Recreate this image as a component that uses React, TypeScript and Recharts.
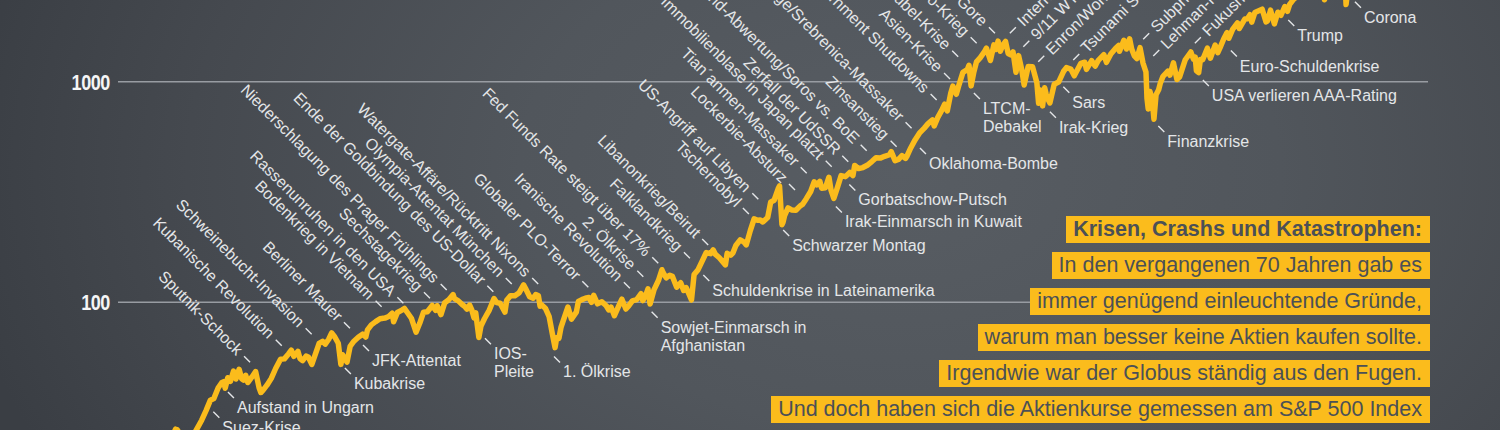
import { LineChart, Line, XAxis, YAxis, ReferenceLine, ReferenceDot } from 'recharts';

// S&P 500, [year, index level]
const spx1950s: [number, number][] = [
  [1951.9, 23.8], [1952.1, 24.1], [1952.3, 23.3], [1952.5, 25.4], [1952.75, 24.5], [1952.95, 26.6],
  [1953.05, 26.4], [1953.3, 24.6], [1953.5, 24.8], [1953.7, 23.0], [1953.95, 24.8], [1954.2, 26.9],
  [1954.45, 29.2], [1954.7, 32.3], [1954.95, 36.0], [1955.15, 36.6], [1955.4, 41.0], [1955.6, 43.2],
  [1955.72, 43.7], [1955.8, 40.8], [1955.95, 45.5], [1956.1, 43.8], [1956.28, 48.8], [1956.42, 44.9],
  [1956.6, 49.7], [1956.75, 45.0], [1956.85, 44.4], [1956.98, 46.7], [1957.1, 43.3], [1957.35, 46.0],
  [1957.55, 48.5], [1957.75, 41.0], [1957.85, 39.0], [1957.98, 40.0], [1958.2, 42.1], [1958.45, 45.2],
  [1958.7, 50.1], [1958.98, 55.2], [1959.2, 55.4], [1959.45, 58.5], [1959.6, 60.7], [1959.75, 56.9],
  [1959.98, 59.9],
];
const spx1960s: [number, number][] = [
  [1960.1, 55.6], [1960.25, 54.4], [1960.45, 57.0], [1960.58, 56.5], [1960.78, 52.3], [1960.98, 58.1],
  [1961.2, 65.1], [1961.4, 66.5], [1961.55, 64.6], [1961.75, 68.0], [1961.92, 72.6], [1962.1, 69.6],
  [1962.3, 65.2], [1962.45, 52.3], [1962.55, 57.8], [1962.8, 53.5], [1962.98, 63.1], [1963.2, 66.6],
  [1963.45, 69.4], [1963.7, 71.7], [1963.88, 69.6], [1963.98, 75.0], [1964.2, 79.0], [1964.45, 81.7],
  [1964.7, 84.2], [1964.98, 84.8], [1965.2, 86.2], [1965.4, 89.3], [1965.48, 81.6], [1965.7, 89.9],
  [1965.98, 92.4], [1966.1, 93.8], [1966.3, 89.2], [1966.5, 84.7], [1966.77, 73.2], [1966.98, 80.3],
  [1967.2, 90.2], [1967.42, 90.6], [1967.7, 96.7], [1967.9, 92.0], [1967.98, 96.5], [1968.2, 88.0],
  [1968.42, 99.6], [1968.65, 102.7], [1968.9, 108.4], [1968.98, 103.9], [1969.2, 101.5], [1969.42, 97.7],
  [1969.58, 95.5], [1969.7, 93.1], [1969.85, 97.1], [1969.98, 92.1],
];
const spx1970s: [number, number][] = [
  [1970.1, 85.0], [1970.2, 89.6], [1970.38, 69.3], [1970.5, 78.0], [1970.7, 84.2], [1970.98, 92.2],
  [1971.25, 103.9], [1971.4, 99.7], [1971.6, 99.0], [1971.88, 90.2], [1971.98, 102.1], [1972.2, 107.2],
  [1972.45, 107.1], [1972.7, 110.6], [1972.95, 119.9], [1973.05, 116.0], [1973.3, 106.0], [1973.5, 104.3],
  [1973.65, 108.4], [1973.8, 107.0], [1973.9, 95.9], [1973.98, 97.5], [1974.2, 94.0], [1974.42, 86.0],
  [1974.6, 72.2], [1974.76, 62.3], [1974.85, 69.0], [1974.98, 68.6], [1975.1, 76.9], [1975.25, 83.4],
  [1975.5, 95.2], [1975.7, 83.9], [1975.98, 90.2], [1976.1, 100.9], [1976.3, 102.8], [1976.5, 104.3],
  [1976.7, 105.2], [1976.85, 100.0], [1976.98, 107.5], [1977.2, 98.4], [1977.45, 100.5], [1977.7, 96.5],
  [1977.85, 92.3], [1977.98, 95.1], [1978.17, 86.9], [1978.4, 95.5], [1978.6, 103.3], [1978.83, 93.2],
  [1978.98, 96.1], [1979.2, 101.6], [1979.45, 102.9], [1979.7, 109.3], [1979.8, 101.8], [1979.98, 107.9],
];
const spx1980s: [number, number][] = [
  [1980.1, 115.0], [1980.22, 98.2], [1980.45, 114.2], [1980.7, 125.5], [1980.9, 140.5], [1980.98, 135.8],
  [1981.15, 129.0], [1981.35, 132.7], [1981.5, 131.2], [1981.75, 117.1], [1981.98, 122.6], [1982.15, 113.1],
  [1982.3, 116.4], [1982.6, 102.4], [1982.75, 133.7], [1982.98, 140.6], [1983.2, 153.0], [1983.45, 168.1],
  [1983.7, 166.1], [1983.85, 172.7], [1983.98, 164.9], [1984.2, 159.2], [1984.55, 147.8], [1984.65, 166.7],
  [1984.85, 163.6], [1984.98, 167.2], [1985.15, 181.0], [1985.4, 191.9], [1985.6, 188.0], [1985.75, 182.1],
  [1985.98, 211.3], [1986.2, 238.9], [1986.4, 235.5], [1986.55, 236.1], [1986.7, 231.3], [1986.98, 242.2],
  [1987.15, 284.2], [1987.35, 290.1], [1987.6, 329.8], [1987.66, 336.8], [1987.8, 224.8], [1987.86, 230.3],
  [1987.95, 247.1], [1988.15, 267.8], [1988.35, 262.2], [1988.6, 261.5], [1988.85, 273.7], [1988.98, 277.7],
  [1989.2, 294.9], [1989.45, 318.0], [1989.65, 351.5], [1989.8, 340.4], [1989.98, 353.4],
];
const spx1990s: [number, number][] = [
  [1990.08, 329.1], [1990.3, 330.8], [1990.5, 368.9], [1990.62, 322.6], [1990.78, 295.5], [1990.98, 330.2],
  [1991.2, 375.2], [1991.45, 371.2], [1991.7, 387.9], [1991.88, 375.2], [1991.98, 417.1], [1992.2, 403.7],
  [1992.45, 408.1], [1992.7, 417.8], [1992.98, 435.7], [1993.2, 451.7], [1993.45, 450.5], [1993.7, 458.9],
  [1993.98, 466.5], [1994.08, 481.6], [1994.3, 438.9], [1994.5, 444.3], [1994.7, 462.7], [1994.9, 449.0],
  [1994.98, 459.3], [1995.2, 500.7], [1995.45, 544.8], [1995.7, 584.4], [1995.98, 615.9], [1996.2, 645.5],
  [1996.45, 670.6], [1996.55, 630.0], [1996.75, 687.3], [1996.98, 740.7], [1997.15, 790.8], [1997.3, 737.7],
  [1997.5, 885.1], [1997.62, 954.3], [1997.82, 876.9], [1997.98, 970.4], [1998.2, 1101.8], [1998.45, 1133.8],
  [1998.55, 1186.8], [1998.67, 957.3], [1998.82, 1098.7], [1998.98, 1229.2], [1999.2, 1286.4], [1999.45, 1372.7],
  [1999.55, 1418.8], [1999.78, 1247.4], [1999.98, 1469.3],
];
const spx2000s: [number, number][] = [
  [2000.1, 1401.0], [2000.22, 1527.5], [2000.35, 1373.7], [2000.5, 1469.0], [2000.65, 1520.8], [2000.8, 1342.6],
  [2000.98, 1320.3], [2001.08, 1366.0], [2001.25, 1103.3], [2001.4, 1312.8], [2001.58, 1133.6], [2001.72, 965.8],
  [2001.95, 1170.4], [2002.2, 1170.3], [2002.45, 989.8], [2002.55, 797.7], [2002.65, 916.1], [2002.78, 776.8],
  [2002.9, 938.9], [2002.98, 879.8], [2003.1, 829.7], [2003.2, 800.7], [2003.45, 974.5], [2003.7, 996.0],
  [2003.98, 1111.9], [2004.15, 1157.8], [2004.4, 1140.8], [2004.6, 1063.2], [2004.98, 1211.9], [2005.2, 1225.3],
  [2005.3, 1137.5], [2005.6, 1245.0], [2005.8, 1176.8], [2005.98, 1248.3], [2006.3, 1325.8], [2006.45, 1223.7],
  [2006.7, 1335.9], [2006.98, 1418.3], [2007.15, 1459.7], [2007.2, 1374.1], [2007.45, 1539.2], [2007.6, 1406.7],
  [2007.78, 1565.2], [2007.9, 1407.2], [2008.05, 1310.5], [2008.2, 1273.4], [2008.38, 1426.6], [2008.55, 1214.9],
  [2008.72, 1106.4], [2008.78, 839.8], [2008.85, 752.4], [2008.95, 903.3], [2009.08, 825.9], [2009.18, 676.5],
  [2009.3, 872.8], [2009.45, 919.3], [2009.55, 987.5], [2009.7, 1057.1], [2009.98, 1115.1],
];
const spx2010s: [number, number][] = [
  [2010.1, 1071.0], [2010.3, 1217.3], [2010.5, 1022.6], [2010.65, 1049.3], [2010.98, 1257.6], [2011.3, 1363.6],
  [2011.45, 1265.4], [2011.55, 1292.3], [2011.62, 1119.5], [2011.75, 1099.2], [2011.85, 1261.2], [2011.98, 1257.6],
  [2012.25, 1419.0], [2012.42, 1278.0], [2012.7, 1465.8], [2012.85, 1353.3], [2012.98, 1426.2], [2013.2, 1569.2],
  [2013.38, 1669.2], [2013.48, 1573.1], [2013.7, 1725.5], [2013.98, 1848.4], [2014.08, 1741.9], [2014.4, 1923.6],
  [2014.55, 1930.7], [2014.7, 2011.4], [2014.8, 1862.5], [2014.98, 2058.9], [2015.4, 2130.8], [2015.62, 1867.6],
  [2015.7, 1882.0], [2015.88, 2109.8], [2016.1, 1829.1], [2016.3, 2065.3], [2016.48, 2000.5], [2016.7, 2190.2],
  [2016.85, 2085.2], [2016.98, 2238.8], [2017.2, 2362.7], [2017.5, 2470.3], [2017.98, 2673.6], [2018.1, 2872.9],
  [2018.15, 2581.0], [2018.5, 2800.0], [2018.75, 2930.8], [2018.98, 2351.1], [2019.3, 2945.8], [2019.6, 2822.2],
  [2019.98, 3230.8], [2020.12, 3386.2], [2020.22, 2237.4], [2020.4, 2929.8], [2020.7, 3385.5], [2020.98, 3756.1],
];

// events: [label, year, level where the leader sits]
const upLeftNotes: [string, number, number][] = [
  ['Sputnik-Schock', 1957.23, 53.5],
  ['Kubanische Revolution', 1959.05, 63.6],
  ['Schweinebucht-Invasion', 1960.77, 71.6],
  ['Berliner Mauer', 1962.97, 76.2],
  ['Bodenkrieg in Vietnam', 1964.79, 95.5],
  ['Rassenunruhen in den USA', 1966.04, 99.0],
  ['Sechstagekrieg', 1967.57, 104.3],
  ['Niederschlagung des Prager Frühlings', 1968.53, 113.7],
  ['Ende der Goldbindung des US-Dollar', 1971.21, 111.7],
  ['Olympia-Attentat München', 1972.27, 121.1],
  ['Watergate-Affäre/Rücktritt Nixons', 1973.79, 121.1],
  ['Globaler PLO-Terror', 1976.67, 116.9],
  ['Iranische Revolution', 1979.06, 115.7],
  ['2. Ölkrise', 1979.83, 130.6],
  ['Fed Funds Rate steigt über 17%', 1980.69, 150.2],
  ['Falklandkrieg', 1982.51, 158.3],
  ['Libanonkrieg/Beirut', 1983.56, 181.8],
  ['Tschernobyl', 1985.9, 251.3],
  ['US-Angriff auf Libyen', 1986.44, 293.0],
  ['Lockerbie-Absturz', 1988.55, 322.9],
  ['Tian´anmen-Massaker', 1989.22, 384.5],
  ['Immobilienblase in Japan platzt', 1990.66, 411.8],
  ['Zerfall der UdSSR', 1991.61, 433.8],
  ['Pfund-Abwertung/Soros vs. BoE', 1992.67, 486.7],
  ['Zinsanstieg', 1994.39, 507.5],
  ['Jugoslawienkriege/Srebrenica-Massaker', 1995.25, 615.0],
  ['Government Shutdowns', 1996.69, 826.1],
  ['Asien-Krise', 1997.46, 1028.5],
  ['Rubel-Krise', 1997.93, 1298],
  ['Kosovo-Krieg', 1998.99, 1493],
  ['Bush vs. Gore', 2000.04, 1657],
];
const upRightNotes: [string, number, number][] = [
  ['Internet-Blase', 2000.9, 1657],
  ['9/11 WTC', 2001.67, 1441],
  ['Enron/WorldCom', 2002.53, 1232],
  ['Tsunami Südostasien', 2004.54, 1254],
  ['Subprime-Krise', 2008.56, 1556],
  ['Lehman-Pleite', 2009.14, 1308],
  ['Fukushima', 2011.53, 1493],
];
const downNotes: [string, number, number][] = [
  ['Suez-Krise', 1955.12, 31.9],
  ['Aufstand in Ungarn', 1955.96, 39.2],
  ['Kubakrise', 1962.68, 50.4],
  ['JFK-Attentat', 1963.72, 64.0],
  ['IOS-\nPleite', 1970.73, 68.7],
  ['1. Ölkrise', 1974.7, 56.8],
  ['Sowjet-Einmarsch in\nAfghanistan', 1980.31, 90.7],
  ['Schuldenkrise in Lateinamerika', 1983.28, 133.0],
  ['Schwarzer Montag', 1987.87, 212.7],
  ['Irak-Einmarsch in Kuwait', 1990.9, 272],
  ['Gorbatschow-Putsch', 1991.67, 342],
  ['Oklahoma-Bombe', 1995.73, 500.6],
  ['LTCM-\nDebakel', 1998.83, 888.9],
  ['Irak-Krieg', 2003.2, 731.2],
  ['Sars', 2003.97, 949],
  ['Finanzkrise', 2009.43, 629.9],
  ['USA verlieren AAA-Rating', 2011.99, 1017.9],
  ['Euro-Schuldenkrise', 2013.6, 1384.5],
  ['Trump', 2016.9, 1904],
  ['Corona', 2020.73, 2304],
];

const valueTicks = [100, 1000];

const infoLines = [
  'Krisen, Crashs und Katastrophen:',
  'In den vergangenen 70 Jahren gab es',
  'immer genügend einleuchtende Gründe,',
  'warum man besser keine Aktien kaufen sollte.',
  'Irgendwie war der Globus ständig aus den Fugen.',
  'Und doch haben sich die Aktienkurse gemessen am S&P 500 Index',
];

const series = [...spx1950s, ...spx1960s, ...spx1970s, ...spx1980s, ...spx1990s, ...spx2000s, ...spx2010s].map(
  ([t, v]) => ({ t, v })
);

const YELLOW = '#fbbc1c';
const NOTE = '#e4e6e8';
const SANS = "'Liberation Sans', Arial, Helvetica, sans-serif";

function Note({ cx, cy, text, dir }: { cx?: number; cy?: number; text: string; dir: 'ul' | 'ur' | 'dr' }) {
  if (cx == null || cy == null) return <g />;
  const font = { fill: NOTE, fontSize: 16, fontFamily: SANS };
  if (dir === 'ul') {
    return (
      <g>
        <line x1={cx - 6} y1={cy - 6} x2={cx} y2={cy} stroke={NOTE} strokeWidth={1.4} />
        <text transform={`translate(${cx - 10},${cy - 10}) rotate(45)`} textAnchor="end" dy="0.35em" {...font}>
          {text}
        </text>
      </g>
    );
  }
  if (dir === 'ur') {
    return (
      <g>
        <line x1={cx} y1={cy} x2={cx + 6} y2={cy - 6} stroke={NOTE} strokeWidth={1.4} />
        <text transform={`translate(${cx + 10},${cy - 10}) rotate(-45)`} textAnchor="start" dy="0.35em" {...font}>
          {text}
        </text>
      </g>
    );
  }
  const rows = text.split('\n');
  return (
    <g>
      <line x1={cx} y1={cy} x2={cx + 6} y2={cy + 6} stroke={NOTE} strokeWidth={1.4} />
      <text x={cx + 9} y={cy + 21} {...font}>
        {rows.map((r, i) => (
          <tspan key={i} x={cx + 9} dy={i ? 18 : 0}>
            {r}
          </tspan>
        ))}
      </text>
    </g>
  );
}

function notes(list: [string, number, number][], dir: 'ul' | 'ur' | 'dr') {
  return list.map(([label, t, v]) => (
    <ReferenceDot
      key={dir + label}
      x={t}
      y={v}
      r={0}
      shape={(p: any) => <Note cx={p.cx} cy={p.cy} text={label} dir={dir} />}
    />
  ));
}

// bold condensed tick, squeezed horizontally
function ValueTick(props: any) {
  const { x, y, payload } = props;
  return (
    <text
      transform={`translate(${x},${y}) scale(0.82,1)`}
      textAnchor="end"
      dy="0.36em"
      fill="#f5f5f5"
      fontSize={22}
      fontWeight={700}
      fontFamily={SANS}
      letterSpacing={-0.5}
    >
      {payload.value}
    </text>
  );
}

export default function App() {
  return (
    <div
      style={{
        position: 'relative',
        width: 1500,
        height: 430,
        overflow: 'hidden',
        background:
          'radial-gradient(ellipse 950px 650px at 60% 40%, #585d63 0%, #51565c 40%, #45494f 75%, #3a3e44 100%)',
      }}
    >
      <style>{'body{margin:0}'}</style>
      <LineChart width={1500} height={430} data={series} margin={{ top: 0, right: 72, bottom: 0, left: 0 }}>
        <XAxis type="number" dataKey="t" domain={[1949.64, 2024.93]} hide allowDataOverflow />
        <YAxis
          scale="log"
          domain={[26.37, 2346]}
          allowDataOverflow
          ticks={valueTicks}
          width={118}
          axisLine={false}
          tickLine={false}
          tick={<ValueTick />}
        />
        {valueTicks.map((v) => (
          <ReferenceLine key={v} y={v} stroke="#989ca2" strokeWidth={1.6} />
        ))}
        {notes(upLeftNotes, 'ul')}
        {notes(upRightNotes, 'ur')}
        {notes(downNotes, 'dr')}
        <Line
          type="linear"
          dataKey="v"
          stroke={YELLOW}
          strokeWidth={5.5}
          strokeLinejoin="round"
          dot={false}
          isAnimationActive={false}
        />
      </LineChart>
      <div
        style={{
          position: 'absolute',
          right: 70,
          top: 216,
          display: 'flex',
          flexDirection: 'column',
          alignItems: 'flex-end',
          gap: 9,
        }}
      >
        {infoLines.map((line, i) => (
          <span
            key={i}
            style={{
              background: YELLOW,
              color: '#4b5056',
              fontFamily: SANS,
              fontSize: 21.5,
              fontWeight: i === 0 ? 700 : 400,
              height: 27,
              lineHeight: '27px',
              padding: '0 8px 0 7px',
              whiteSpace: 'nowrap',
            }}
          >
            {line}
          </span>
        ))}
      </div>
    </div>
  );
}
